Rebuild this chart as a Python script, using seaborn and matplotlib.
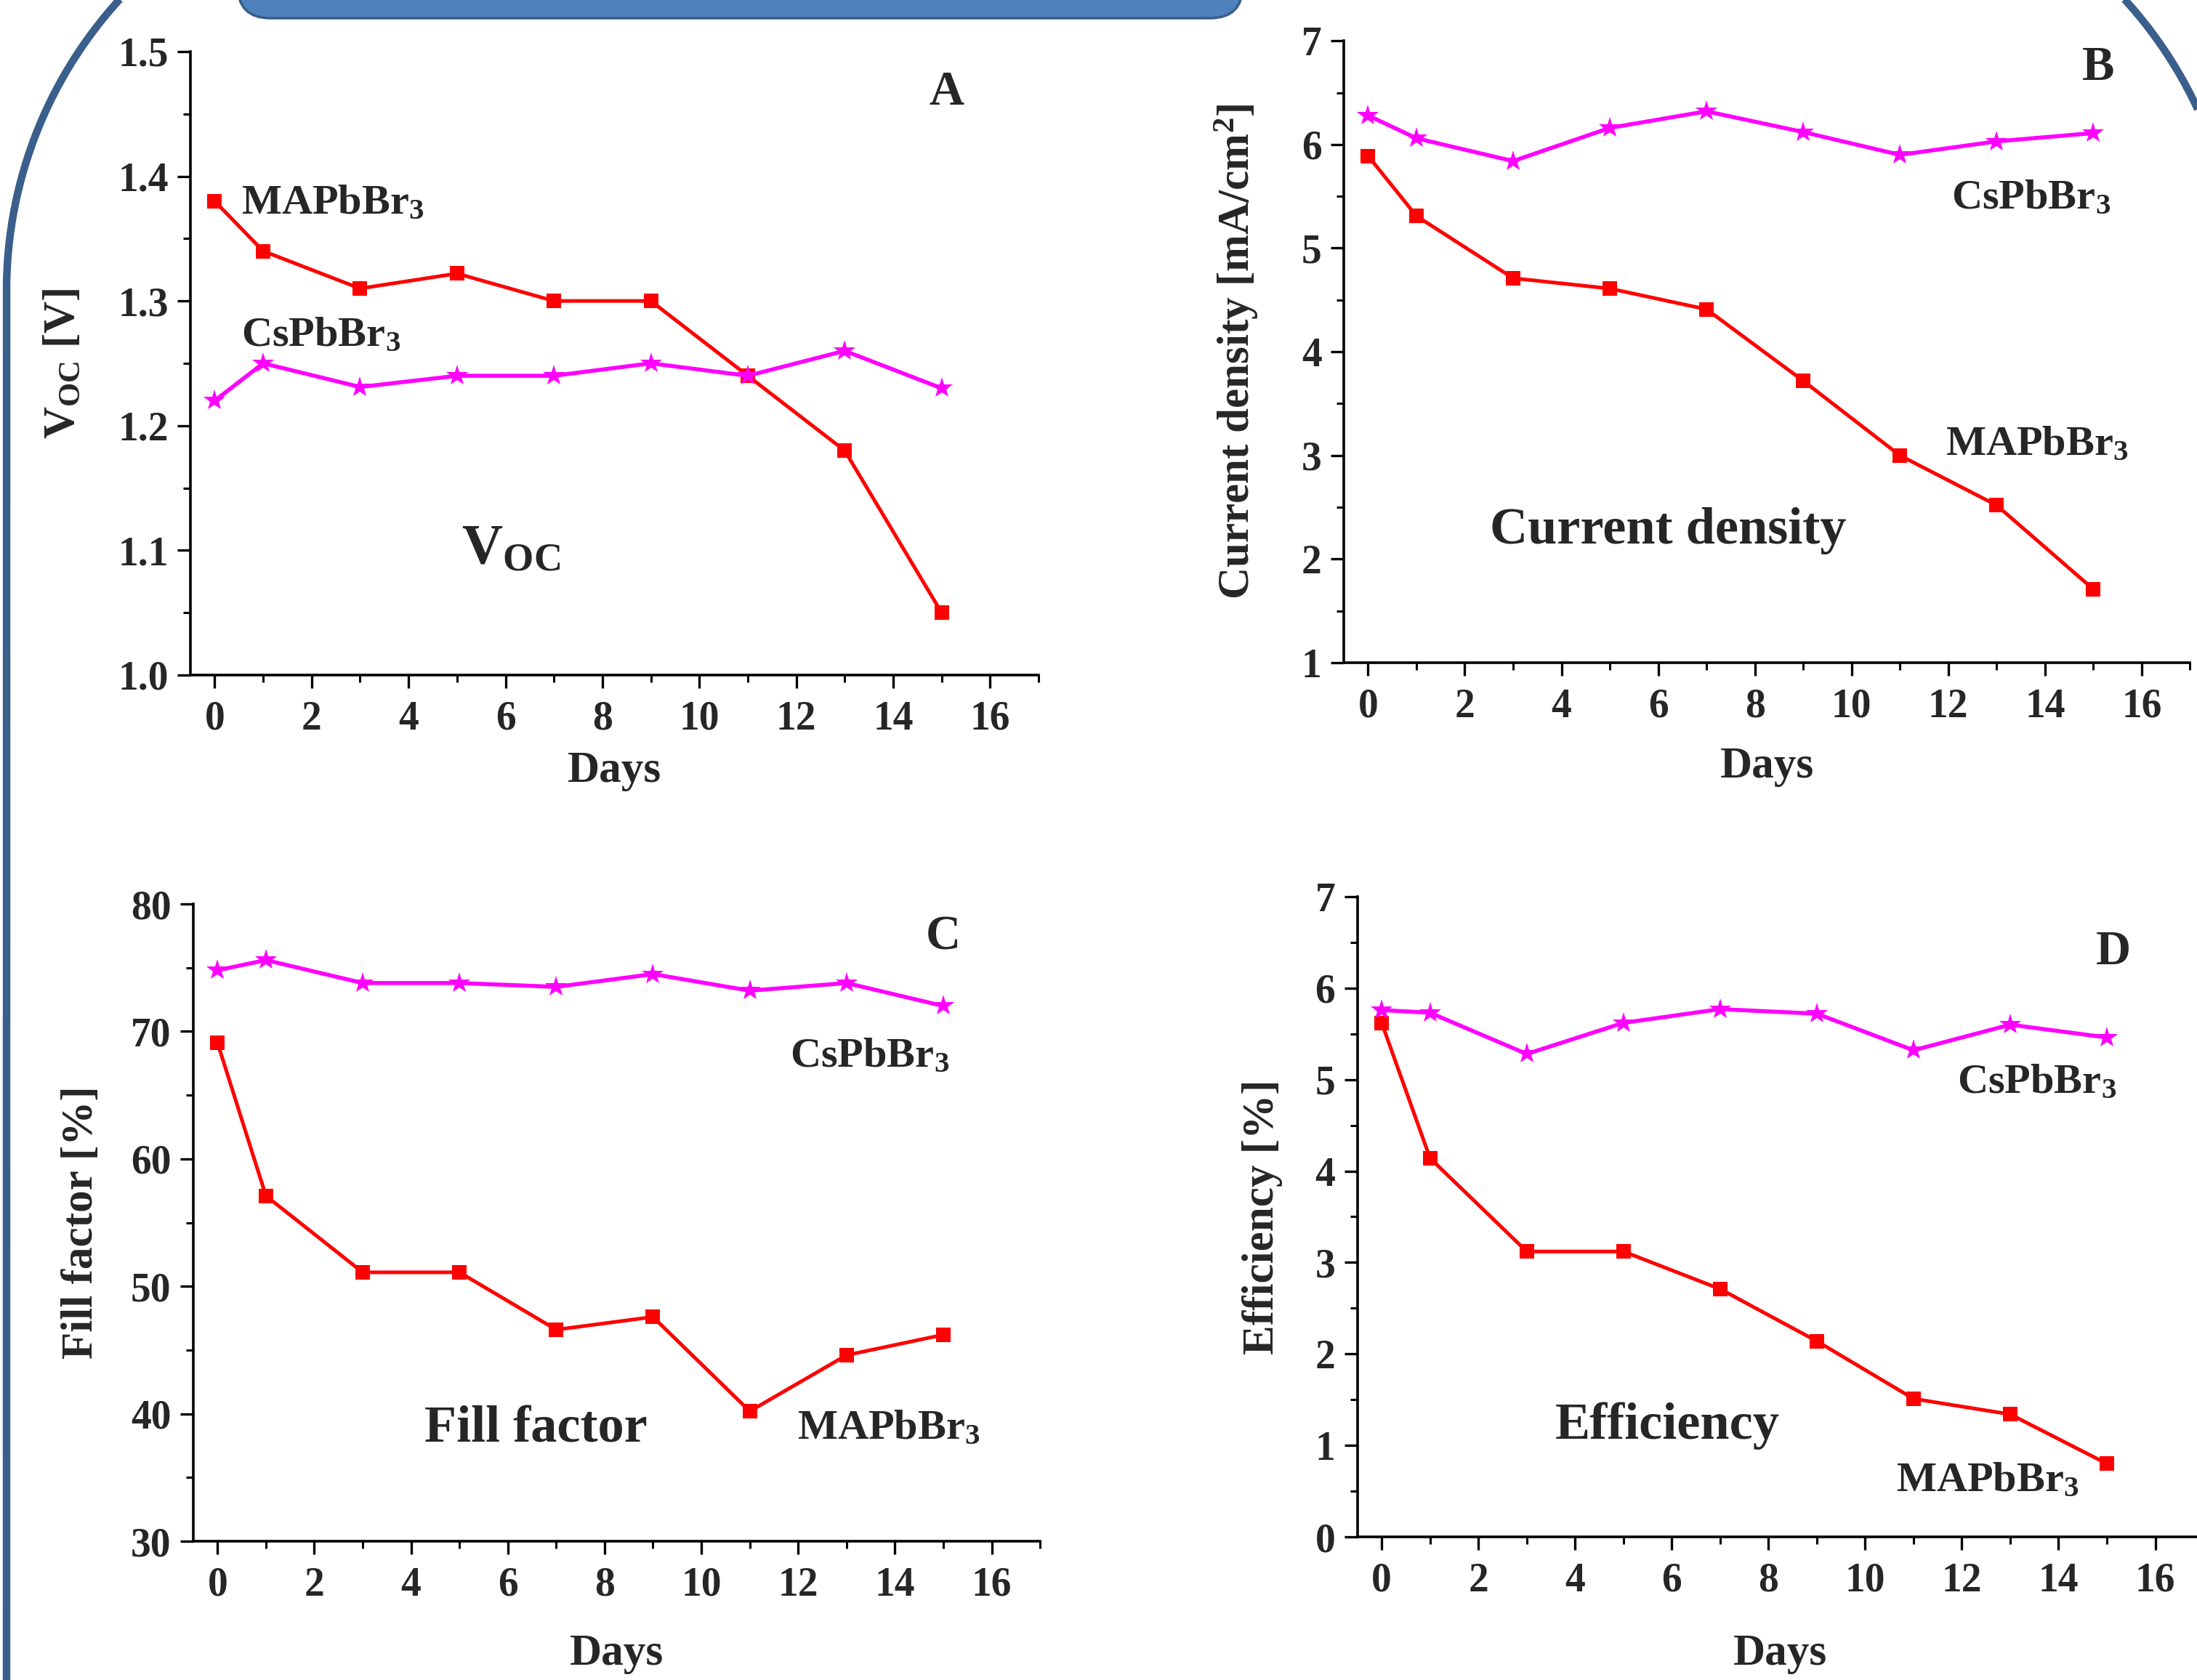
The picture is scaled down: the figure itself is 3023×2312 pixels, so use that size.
import numpy as np
import pandas as pd
import matplotlib
matplotlib.use("Agg")
import matplotlib.pyplot as plt
import seaborn as sns
from matplotlib.ticker import MultipleLocator, FormatStrFormatter
from matplotlib.patches import FancyBboxPatch

# ---------------- data ----------------
days = [0, 1, 3, 5, 7, 9, 11, 13, 15]
materials = ["MAPbBr3", "CsPbBr3"]

voc_ma = [1.38, 1.34, 1.31, 1.322, 1.30, 1.30, 1.24, 1.18, 1.05]
voc_cs = [1.22, 1.25, 1.231, 1.24, 1.24, 1.25, 1.24, 1.26, 1.23]

jsc_ma = [5.89, 5.31, 4.71, 4.61, 4.41, 3.72, 3.00, 2.52, 1.71]
jsc_cs = [6.28, 6.06, 5.84, 6.16, 6.32, 6.12, 5.90, 6.03, 6.11]

ff_ma = [69.1, 57.1, 51.1, 51.1, 46.6, 47.6, 40.2, 44.6, 46.2]
ff_cs = [74.8, 75.6, 73.8, 73.8, 73.5, 74.5, 73.2, 73.8, 72.0]

eff_ma = [5.62, 4.14, 3.12, 3.12, 2.71, 2.14, 1.51, 1.34, 0.80]
eff_cs = [5.76, 5.73, 5.28, 5.62, 5.77, 5.72, 5.32, 5.60, 5.46]

# ---------------- style ----------------
sns.set_style("ticks")
plt.rcParams["font.family"] = ["Liberation Serif", "DejaVu Serif"]
plt.rcParams["font.weight"] = "bold"
plt.rcParams["axes.labelweight"] = "bold"
plt.rcParams["mathtext.fontset"] = "custom"
plt.rcParams["mathtext.rm"] = "Liberation Serif:bold"
plt.rcParams["mathtext.bf"] = "Liberation Serif:bold"
plt.rcParams["mathtext.it"] = "Liberation Serif:bold"

W, H = 3023, 2312
fig = plt.figure(figsize=(W / 100, H / 100), dpi=100)
fig.patch.set_facecolor("white")

# ---------------- decorative frame ----------------
bg = fig.add_axes([0, 0, 1, 1], zorder=-10)
bg.set_xlim(0, W)
bg.set_ylim(H, 0)
bg.axis("off")
frame_col = "#3B5F8C"
R = 594
t = np.linspace(0, np.pi / 2, 200)
# left rounded corner + straight left edge
lx = np.concatenate([[9, 9], 9 + R - R * np.cos(t)])
ly = np.concatenate([[H + 50, 400], 400 - R * np.sin(t)])
bg.plot(lx, ly, color=frame_col, lw=7.5, solid_capstyle="butt")
# right rounded corner
rx = 2485 + R * np.cos(t)
ry = 400 - R * np.sin(t)
bg.plot(rx, ry, color=frame_col, lw=7.5, solid_capstyle="butt")
# banner at the top
banner = FancyBboxPatch((327, -150), 1710 - 327, 175,
                        boxstyle="round,pad=0,rounding_size=45",
                        fc="#4F81BD", ec="#385D8A", lw=2.5)
bg.add_patch(banner)

palette = {"MAPbBr3": "#FF0000", "CsPbBr3": "#FF00FF"}
marker_map = {"MAPbBr3": "s", "CsPbBr3": "*"}


def make_df(ma, cs):
    return pd.DataFrame({
        "Days": days + days,
        "value": ma + cs,
        "material": ["MAPbBr3"] * len(days) + ["CsPbBr3"] * len(days),
    })


def setup(ax, df, ylim, ymaj, ymin, yfmt, ylabel, ylab_x, xlab_y):
    ax.set_facecolor("none")
    sns.lineplot(data=df[df.material == "MAPbBr3"], x="Days", y="value",
                 color=palette["MAPbBr3"], marker="s", linewidth=3.6,
                 markersize=14, markeredgewidth=0, legend=False, ax=ax)
    sns.lineplot(data=df[df.material == "CsPbBr3"], x="Days", y="value",
                 color=palette["CsPbBr3"], marker="*", linewidth=4.0,
                 markersize=22, markeredgewidth=0, legend=False, ax=ax)
    ax.set_xlim(-0.5, 17)
    ax.set_ylim(*ylim)
    ax.xaxis.set_major_locator(MultipleLocator(2))
    ax.xaxis.set_minor_locator(MultipleLocator(1))
    ax.yaxis.set_major_locator(MultipleLocator(ymaj))
    ax.yaxis.set_minor_locator(MultipleLocator(ymin))
    ax.yaxis.set_major_formatter(FormatStrFormatter(yfmt))
    ax.xaxis.set_major_formatter(FormatStrFormatter("%d"))
    for s in ["top", "right"]:
        ax.spines[s].set_visible(False)
    for s in ["left", "bottom"]:
        ax.spines[s].set_linewidth(2.6)
        ax.spines[s].set_color("black")
    ax.tick_params(axis="both", which="major", direction="out", length=13,
                   width=2.4, labelsize=40, color="black")
    ax.tick_params(axis="both", which="minor", direction="out", length=7,
                   width=2.2, color="black")
    ax.tick_params(axis="x", which="major", pad=12)
    ax.tick_params(axis="y", which="major", pad=9)
    for lab in ax.get_xticklabels() + ax.get_yticklabels():
        lab.set_fontweight("bold")
    ax.set_xlabel("Days", fontsize=44, fontweight="bold")
    ax.set_ylabel(ylabel, fontsize=44, fontweight="bold")
    ax.yaxis.set_label_coords(ylab_x, 0.5)
    ax.xaxis.set_label_coords(0.5, xlab_y)


axA = fig.add_axes([0.0867, 0.5982, 0.3860, 0.3711])
axB = fig.add_axes([0.6117, 0.6055, 0.3851, 0.3702])
axC = fig.add_axes([0.0880, 0.0826, 0.3854, 0.3793])
axD = fig.add_axes([0.6179, 0.0852, 0.3851, 0.3811])

setup(axA, make_df(voc_ma, voc_cs), (1.0, 1.5), 0.1, 0.05, "%.1f",
      r"V$_{\mathrm{OC}}$ [V]", -0.126, -0.121)
setup(axB, make_df(jsc_ma, jsc_cs), (1, 7), 1, 0.5, "%d",
      r"Current density [mA/cm$^{2}$]", -0.099, -0.134)
setup(axC, make_df(ff_ma, ff_cs), (30, 80), 10, 5, "%d",
      "Fill factor [%]", -0.108, -0.145)
setup(axD, make_df(eff_ma, eff_cs), (0, 7), 1, 0.5, "%d",
      "Efficiency [%]", -0.0885, -0.151)

lab_kw = dict(fontsize=42, fontweight="bold", ha="left", va="center")
big_kw = dict(fontsize=52, fontweight="bold", ha="left", va="center")
let_kw = dict(fontsize=48, fontweight="bold", ha="center", va="center")

# Panel A
axA.text(15.1, 1.467, "A", **let_kw)
axA.text(0.55, 1.378, r"MAPbBr$_3$", **lab_kw)
axA.text(0.55, 1.272, r"CsPbBr$_3$", **lab_kw)
axA.text(5.1, 1.10, r"V$_{\mathrm{OC}}$", fontsize=56, fontweight="bold",
         ha="left", va="center")

# Panel B
axB.text(15.1, 6.74, "B", **let_kw)
axB.text(12.06, 5.48, r"CsPbBr$_3$", **lab_kw)
axB.text(11.94, 3.10, r"MAPbBr$_3$", **lab_kw)
axB.text(2.52, 2.27, "Current density", **big_kw)

# Panel C
axC.text(15.0, 77.4, "C", **let_kw)
axC.text(11.83, 68.0, r"CsPbBr$_3$", **lab_kw)
axC.text(11.98, 38.8, r"MAPbBr$_3$", **lab_kw)
axC.text(4.28, 38.8, "Fill factor", **big_kw)

# Panel D
axD.text(15.13, 6.39, "D", **let_kw)
axD.text(11.91, 4.96, r"CsPbBr$_3$", **lab_kw)
axD.text(10.64, 0.61, r"MAPbBr$_3$", **lab_kw)
axD.text(3.59, 1.21, "Efficiency", **big_kw)

fig.savefig("out.png", dpi=100, facecolor="white")
